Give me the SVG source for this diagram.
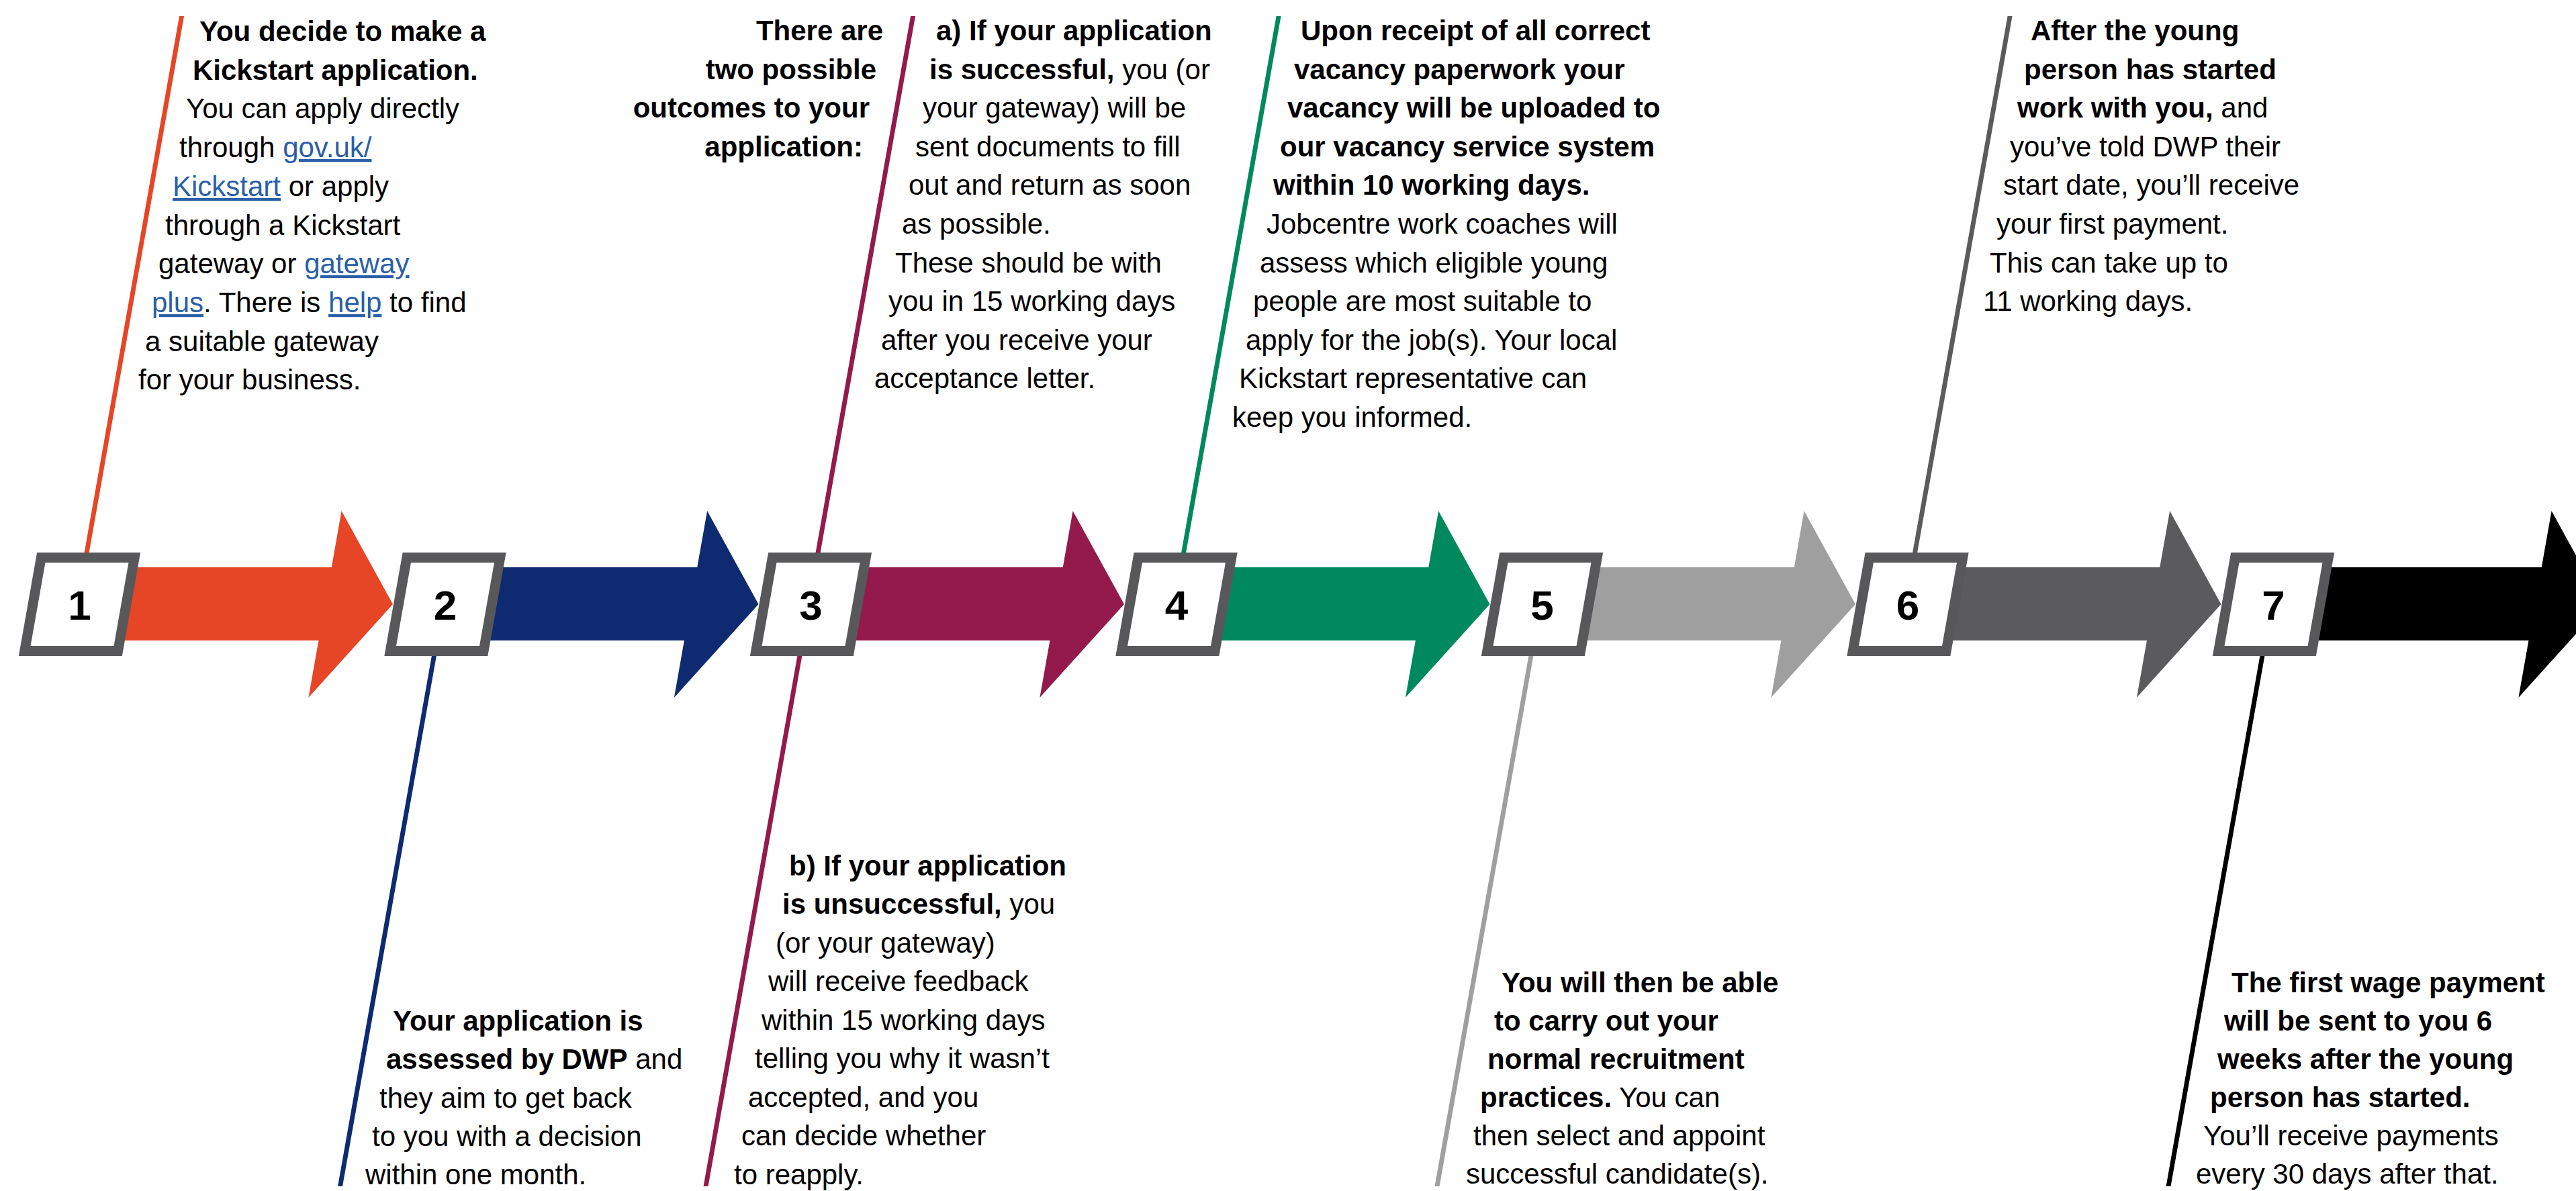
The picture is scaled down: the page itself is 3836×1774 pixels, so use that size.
<svg xmlns="http://www.w3.org/2000/svg" width="3836" height="1774" viewBox="0 0 3836 1774">
<style>
text { font-family: "Liberation Sans", Arial, sans-serif; font-size: 42px; fill: #000; }
.b { font-weight: bold; }
.r { text-anchor: end; }
.lk { fill: #2b5fa8; text-decoration: underline; }
.num { font-size: 62px; font-weight: bold; text-anchor: middle; }
.frame { fill: #58585a; }
.inner { fill: #fff; }
.ln { stroke-width: 7; fill: none; }
</style>
<rect width="3836" height="1774" fill="#fff"/>
<g id="connectors">
  <g transform="matrix(1 0 -0.177 1 159.3 0)">
    <polygon fill="#e64626" points="118.5,845 484,845 484,761 585,900 484,1039 484,954 118.5,954"/>
    <polygon fill="#0e2a70" points="663,845 1028.5,845 1028.5,761 1129.5,900 1028.5,1039 1028.5,954 663,954"/>
    <polygon fill="#931a4a" points="1207.5,845 1573,845 1573,761 1674,900 1573,1039 1573,954 1207.5,954"/>
    <polygon fill="#00895c" points="1752,845 2117.5,845 2117.5,761 2218.5,900 2117.5,1039 2117.5,954 1752,954"/>
    <polygon fill="#a09f9f" points="2296.5,845 2662,845 2662,761 2763,900 2662,1039 2662,954 2296.5,954"/>
    <polygon fill="#5b5b5d" points="2841,845 3206.5,845 3206.5,761 3307.5,900 3206.5,1039 3206.5,954 2841,954"/>
    <polygon fill="#000000" points="3385.5,845 3775,845 3775,761 3876,900 3775,1039 3775,954 3385.5,954"/>
    <line class="ln" stroke="#e64626" x1="115.5" y1="24" x2="115.5" y2="830"/>
    <line class="ln" stroke="#0e2a70" x1="660" y1="970" x2="660" y2="1767"/>
    <line class="ln" stroke="#931a4a" x1="1204.5" y1="24" x2="1204.5" y2="830"/>
    <line class="ln" stroke="#931a4a" x1="1204.5" y1="970" x2="1204.5" y2="1767"/>
    <line class="ln" stroke="#00895c" x1="1749" y1="24" x2="1749" y2="830"/>
    <line class="ln" stroke="#a09f9f" x1="2293.5" y1="970" x2="2293.5" y2="1767"/>
    <line class="ln" stroke="#5b5b5d" x1="2838" y1="24" x2="2838" y2="830"/>
    <line class="ln" stroke="#000000" x1="3382.5" y1="970" x2="3382.5" y2="1767"/>
  </g>
</g>
<g id="step1">
  <g transform="matrix(1 0 -0.177 1 159.3 0)"><rect class="frame" x="41.5" y="823" width="154" height="154"/><rect class="inner" x="56.5" y="838" width="124" height="124"/></g>
  <text class="num" x="118.5" y="923">1</text>
  <text class="b" x="297" y="61">You decide to make a</text>
  <text class="b" x="287" y="119">Kickstart application.</text>
  <text x="277" y="176">You can apply directly</text>
  <text x="267" y="234">through <tspan class="lk">gov.uk/</tspan></text>
  <text x="257" y="292"><tspan class="lk">Kickstart</tspan> or apply</text>
  <text x="246" y="350">through a Kickstart</text>
  <text x="236" y="407">gateway or <tspan class="lk">gateway </tspan></text>
  <text x="226" y="465"><tspan class="lk">plus</tspan>. There is <tspan class="lk">help</tspan> to find</text>
  <text x="216" y="523">a suitable gateway</text>
  <text x="206" y="580">for your business.</text>
</g>
<g id="step2">
  <g transform="matrix(1 0 -0.177 1 159.3 0)"><rect class="frame" x="586" y="823" width="154" height="154"/><rect class="inner" x="601" y="838" width="124" height="124"/></g>
  <text class="num" x="663" y="923">2</text>
  <text class="b" x="585" y="1535">Your application is</text>
  <text x="575" y="1592"><tspan class="b">assessed by DWP</tspan> and</text>
  <text x="565" y="1650">they aim to get back</text>
  <text x="554" y="1707">to you with a decision</text>
  <text x="544" y="1764">within one month.</text>
</g>
<g id="step3">
  <g transform="matrix(1 0 -0.177 1 159.3 0)"><rect class="frame" x="1130.5" y="823" width="154" height="154"/><rect class="inner" x="1145.5" y="838" width="124" height="124"/></g>
  <text class="num" x="1207.5" y="923">3</text>
  <text class="b r" x="1315" y="60">There are</text>
  <text class="b r" x="1305" y="118">two possible</text>
  <text class="b r" x="1295" y="175">outcomes to your</text>
  <text class="b r" x="1285" y="233">application:</text>
  <text class="b" x="1394" y="60">a) If your application</text>
  <text x="1384" y="118"><tspan class="b">is successful,</tspan> you (or</text>
  <text x="1374" y="175">your gateway) will be</text>
  <text x="1363" y="233">sent documents to fill</text>
  <text x="1353" y="290">out and return as soon</text>
  <text x="1343" y="348">as possible.</text>
  <text x="1333" y="406">These should be with</text>
  <text x="1323" y="463">you in 15 working days</text>
  <text x="1312" y="521">after you receive your</text>
  <text x="1302" y="578">acceptance letter.</text>
  <text class="b" x="1175" y="1304">b) If your application</text>
  <text x="1165" y="1361"><tspan class="b">is unsuccessful,</tspan> you</text>
  <text x="1155" y="1419">(or your gateway)</text>
  <text x="1144" y="1476">will receive feedback</text>
  <text x="1134" y="1534">within 15 working days</text>
  <text x="1124" y="1591">telling you why it wasn’t</text>
  <text x="1114" y="1649">accepted, and you</text>
  <text x="1104" y="1706">can decide whether</text>
  <text x="1093" y="1764">to reapply.</text>
</g>
<g id="step4">
  <g transform="matrix(1 0 -0.177 1 159.3 0)"><rect class="frame" x="1675" y="823" width="154" height="154"/><rect class="inner" x="1690" y="838" width="124" height="124"/></g>
  <text class="num" x="1752" y="923">4</text>
  <text class="b" x="1937" y="60">Upon receipt of all correct</text>
  <text class="b" x="1927" y="118">vacancy paperwork your</text>
  <text class="b" x="1917" y="175">vacancy will be uploaded to</text>
  <text class="b" x="1906" y="233">our vacancy service system</text>
  <text class="b" x="1896" y="290">within 10 working days.</text>
  <text x="1886" y="348">Jobcentre work coaches will</text>
  <text x="1876" y="406">assess which eligible young</text>
  <text x="1866" y="463">people are most suitable to</text>
  <text x="1855" y="521">apply for the job(s). Your local</text>
  <text x="1845" y="578">Kickstart representative can</text>
  <text x="1835" y="636">keep you informed.</text>
</g>
<g id="step5">
  <g transform="matrix(1 0 -0.177 1 159.3 0)"><rect class="frame" x="2219.5" y="823" width="154" height="154"/><rect class="inner" x="2234.5" y="838" width="124" height="124"/></g>
  <text class="num" x="2296.5" y="923">5</text>
  <text class="b" x="2236" y="1478">You will then be able</text>
  <text class="b" x="2225" y="1535">to carry out your</text>
  <text class="b" x="2215" y="1592">normal recruitment</text>
  <text x="2204" y="1649"><tspan class="b">practices.</tspan> You can</text>
  <text x="2194" y="1706">then select and appoint</text>
  <text x="2183" y="1763">successful candidate(s).</text>
</g>
<g id="step6">
  <g transform="matrix(1 0 -0.177 1 159.3 0)"><rect class="frame" x="2764" y="823" width="154" height="154"/><rect class="inner" x="2779" y="838" width="124" height="124"/></g>
  <text class="num" x="2841" y="923">6</text>
  <text class="b" x="3024" y="60">After the young</text>
  <text class="b" x="3014" y="118">person has started</text>
  <text x="3004" y="175"><tspan class="b">work with you,</tspan> and</text>
  <text x="2993" y="233">you’ve told DWP their</text>
  <text x="2983" y="290">start date, you’ll receive</text>
  <text x="2973" y="348">your first payment.</text>
  <text x="2963" y="406">This can take up to</text>
  <text x="2953" y="463">11 working days.</text>
</g>
<g id="step7">
  <g transform="matrix(1 0 -0.177 1 159.3 0)"><rect class="frame" x="3308.5" y="823" width="154" height="154"/><rect class="inner" x="3323.5" y="838" width="124" height="124"/></g>
  <text class="num" x="3385.5" y="923">7</text>
  <text class="b" x="3323" y="1478">The first wage payment</text>
  <text class="b" x="3312" y="1535">will be sent to you 6</text>
  <text class="b" x="3302" y="1592">weeks after the young</text>
  <text class="b" x="3291" y="1649">person has started.</text>
  <text x="3281" y="1706">You’ll receive payments</text>
  <text x="3270" y="1763">every 30 days after that.</text>
</g>
</svg>
